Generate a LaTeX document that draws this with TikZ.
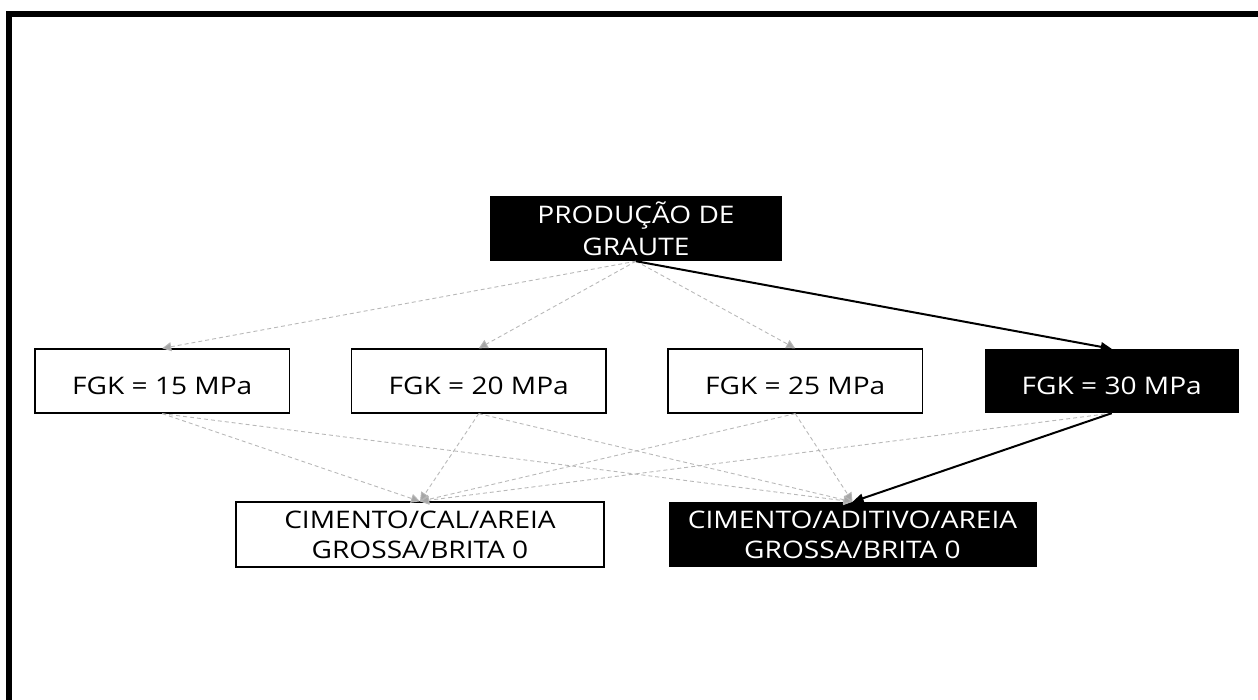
\documentclass[tikz,border=0pt]{standalone}
\usepackage{fontspec}
\setmainfont{Open Sans}[FakeStretch=1.16]
\usetikzlibrary{arrows.meta}
\begin{document}
\begin{tikzpicture}[x=1pt,y=-1pt,
  every node/.style={font=\fontsize{24.2}{30}\selectfont, inner sep=0pt},
  wbox/.style={draw=black, line width=1.3pt, fill=white, align=center},
  bbox/.style={fill=black, text=white, align=center},
  lvl/.style={minimum width=254.5pt, minimum height=64pt, text height=26pt, text depth=0pt},
  mix/.style={minimum width=368pt, minimum height=65pt},
  dashc/.style={draw=black!28, line width=0.9pt, dash pattern=on 4pt off 3pt, -{Triangle[length=9pt,width=9pt,fill=black!35]}},
  boldc/.style={draw=black, line width=2pt, -{Triangle[length=11pt,width=9pt]}},
]
\useasboundingbox (0,0) rectangle (1258,700);
\begin{scope}
  \clip (0,0) rectangle (1258,700);
  \draw[line width=6pt, line join=miter] (9,720) -- (9,14) -- (1280,14);
\end{scope}

\node[bbox, minimum width=292pt, minimum height=65pt] (top) at (636,228.5) {PRODUÇÃO DE\\[2pt]GRAUTE};

\node[wbox,lvl] (f15) at (162.25,381) {FGK = 15 MPa};
\node[wbox,lvl] (f20) at (478.75,381) {FGK = 20 MPa};
\node[wbox,lvl] (f25) at (795.25,381) {FGK = 25 MPa};
\node[bbox,lvl] (f30) at (1111.75,381) {FGK = 30 MPa};

\node[wbox,mix] (mcal) at (420,534.5) {CIMENTO/CAL/AREIA\\GROSSA/BRITA 0};
\node[bbox,mix] (madt) at (852.5,534.5) {CIMENTO/ADITIVO/AREIA\\GROSSA/BRITA 0};

\draw[dashc] (top.south) -- (f15.north);
\draw[dashc] (top.south) -- (f20.north);
\draw[dashc] (top.south) -- (f25.north);
\draw[boldc] (top.south) -- (f30.north);

\draw[dashc] (f15.south) -- (mcal.north);
\draw[dashc] (f15.south) -- (madt.north);
\draw[dashc] (f20.south) -- (mcal.north);
\draw[dashc] (f20.south) -- (madt.north);
\draw[dashc] (f25.south) -- (mcal.north);
\draw[dashc] (f25.south) -- (madt.north);
\draw[dashc] (f30.south) -- (mcal.north);
\draw[boldc] (f30.south) -- (madt.north);
\end{tikzpicture}
\end{document}
